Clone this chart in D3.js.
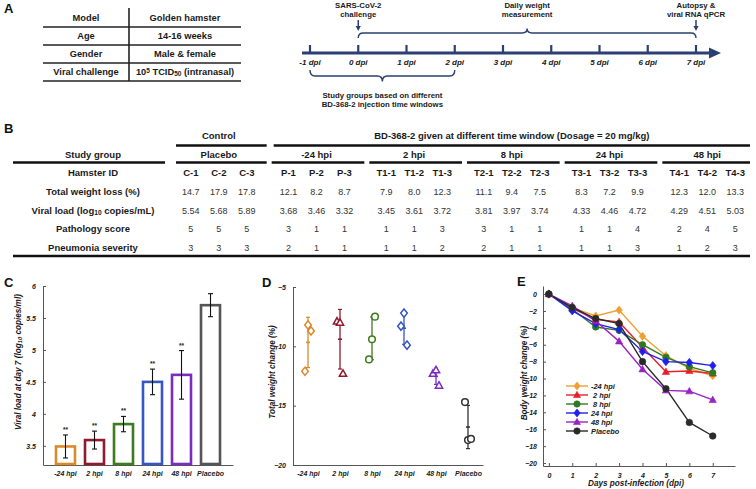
<!DOCTYPE html>
<html><head><meta charset="utf-8">
<script src="https://cdn.jsdelivr.net/npm/d3@7"></script>
<style>
body{margin:0;background:#fff}
svg text{font-family:'Liberation Sans',Arial,Helvetica,sans-serif}
</style>
</head><body>
<svg id="c" width="756" height="489" xmlns="http://www.w3.org/2000/svg"></svg>
<script>
// ---------------- DATA ----------------
const tableAKeys = ["Model", "Age", "Gender", "Viral challenge"];
const tableAValues = ["Golden hamster", "14-16 weeks", "Male & female", "10^{5} TCID_{50} (intranasal)"];
const timelineDays = [-1, 0, 1, 2, 3, 4, 5, 6, 7];

const groupNames = ["Placebo", "-24 hpi", "2 hpi", "8 hpi", "24 hpi", "48 hpi"];
const hamsterIds = [["C-1","C-2","C-3"],["P-1","P-2","P-3"],["T1-1","T1-2","T1-3"],["T2-1","T2-2","T2-3"],["T3-1","T3-2","T3-3"],["T4-1","T4-2","T4-3"]];
const totalWeightLoss = [[14.7,17.9,17.8],[12.1,8.2,8.7],[7.9,8.0,12.3],[11.1,9.4,7.5],[8.3,7.2,9.9],[12.3,12.0,13.3]];
const viralLoad = [[5.54,5.68,5.89],[3.68,3.46,3.32],[3.45,3.61,3.72],[3.81,3.97,3.74],[4.33,4.46,4.72],[4.29,4.51,5.03]];
const pathologyScore = [[5,5,5],[3,1,1],[1,1,3],[3,1,1],[1,1,4],[2,4,5]];
const pneumoniaSeverity = [[3,3,3],[2,1,1],[1,1,2],[2,1,1],[1,1,3],[1,2,3]];
const bRowLabels = ["Hamster ID", "Total weight loss (%)", "Viral load (log_{10} copies/mL)", "Pathology score", "Pneumonia severity"];

const plotCats = ["-24 hpi", "2 hpi", "8 hpi", "24 hpi", "48 hpi", "Placebo"];
// Panel C: viral load at day 7 (mean, SD)
const cMeans = [3.49, 3.59, 3.84, 4.50, 4.61, 5.70];
const cSD = [0.18, 0.14, 0.12, 0.20, 0.38, 0.18];
const cSig = ["**", "**", "**", "**", "**", ""];
const cTicks = [3.5, 4, 4.5, 5, 5.5, 6];
// Panel D: total weight change (%) per animal, mean, SD
const dPoints = [[-12.1,-8.2,-8.7],[-7.9,-8.0,-12.3],[-11.1,-9.4,-7.5],[-8.3,-7.2,-9.9],[-12.3,-12.0,-13.3],[-14.7,-17.9,-17.8]];
const dMeans = [-9.67, -9.40, -9.33, -8.47, -12.53, -16.80];
const dSD = [2.12, 2.51, 1.80, 1.36, 0.68, 1.82];
const dTicks = [-20, -15, -10, -5];
// Panel E: body weight change (%) by day
const eDays = [0, 1, 2, 3, 4, 5, 6, 7];
const eSeriesNames = ["-24 hpi", " 2 hpi", " 8 hpi", "24 hpi", "48 hpi", "Placebo"];
const eMinus24 = [0, -1.6, -2.6, -1.9, -5.0, -7.3, -8.8, -9.67];
const e2 = [0, -1.7, -3.0, -3.3, -6.3, -9.2, -9.1, -9.40];
const e8 = [0, -1.8, -3.9, -4.3, -6.0, -7.5, -8.6, -9.33];
const e24 = [0, -2.0, -3.5, -4.2, -6.8, -8.0, -8.1, -8.47];
const e48 = [0, -1.4, -3.2, -5.6, -8.9, -11.4, -11.5, -12.53];
const ePlacebo = [0, -1.6, -2.9, -3.5, -8.0, -11.2, -15.2, -16.80];
const eYTicks = [0, -2, -4, -6, -8, -10, -12, -14, -16, -18, -20];

// ---------------- STYLE ----------------
const catColors = ["#D98A2B", "#8E1B2E", "#3E7B1E", "#3556C4", "#7B2CBF", "#555555"];
const dColors = ["#D98A2B", "#8E1B2E", "#3E7B1E", "#3556C4", "#7B2CBF", "#333333"];
const eColors = ["#F0A030", "#E8202A", "#2E7A22", "#1F1FF0", "#9B22C2", "#2a2a2a"];
const eShapes = ["diamond", "triangle", "circle", "diamond", "triangle", "circle"];
const dShapes = ["diamond", "triangle", "circle", "diamond", "triangle", "circle"];
const TL = "#2B3F73";
const INK = "#1a1a1a";
const AX = "#555";

const svg = d3.select("#c");

function rich(textSel, str) {
  const parts = str.split(/(\^\{[^}]*\}|_\{[^}]*\})/).filter(s => s.length);
  parts.forEach(p => {
    if (p.startsWith("^{")) {
      textSel.append("tspan").text(p.slice(2, -1)).attr("font-size", "70%").attr("baseline-shift", "35%");
    } else if (p.startsWith("_{")) {
      textSel.append("tspan").text(p.slice(2, -1)).attr("font-size", "70%").attr("baseline-shift", "-20%");
    } else {
      textSel.append("tspan").text(p);
    }
  });
  return textSel;
}
function txt(g, x, y, s, size, opts = {}) {
  const t = g.append("text").attr("x", x).attr("y", y)
    .attr("font-size", size).attr("text-anchor", opts.anchor || "middle")
    .attr("font-weight", opts.weight || "bold")
    .attr("font-style", opts.style || "normal")
    .attr("fill", opts.fill || INK);
  if (opts.pre) t.style("white-space", "pre");
  rich(t, s);
  return t;
}
function marker(g, shape, x, y, r, color, filled, sw) {
  let el;
  if (shape === "circle") {
    el = g.append("circle").attr("cx", x).attr("cy", y).attr("r", r);
  } else if (shape === "diamond") {
    el = g.append("path").attr("d", `M${x},${y - r * 1.25}L${x + r},${y}L${x},${y + r * 1.25}L${x - r},${y}Z`);
  } else {
    el = g.append("path").attr("d", `M${x},${y - r * 1.15}L${x + r * 1.1},${y + r * 0.8}L${x - r * 1.1},${y + r * 0.8}Z`);
  }
  el.attr("fill", filled ? color : "white").attr("stroke", color).attr("stroke-width", sw);
  return el;
}
function label(x, y, s) {
  svg.append("text").attr("x", x).attr("y", y).attr("font-size", 13).attr("font-weight", "bold").attr("fill", "#111").text(s);
}

// ---------------- PANEL A ----------------
label(4, 13, "A");
const aG = svg.append("g");
const aRow = d3.scaleBand().domain(tableAKeys).range([9, 81]);
const aCol = d3.scaleOrdinal().domain(["key", "value"]).range([86, 185]);
tableAKeys.forEach((k, i) => {
  const yc = aRow(k) + aRow.bandwidth() / 2;
  txt(aG, aCol("key"), yc + 3.3, k, 9.3);
  txt(aG, aCol("value"), yc + 3.3, tableAValues[i], 9.3);
  aG.append("line").attr("x1", 43).attr("x2", 241).attr("y1", aRow(k) + aRow.bandwidth()).attr("y2", aRow(k) + aRow.bandwidth())
    .attr("stroke", "#222").attr("stroke-width", 1.6);
});
aG.append("line").attr("x1", 129).attr("x2", 129).attr("y1", 8).attr("y2", 81).attr("stroke", "#222").attr("stroke-width", 1.6);

// Timeline
const tx = d3.scaleLinear().domain([-1, 7]).range([310, 696]);
const tG = svg.append("g");
tG.append("line").attr("x1", 302).attr("x2", 711).attr("y1", 53).attr("y2", 53).attr("stroke", TL).attr("stroke-width", 3);
tG.append("path").attr("d", "M709,47.5L721,53L709,58.5Z").attr("fill", TL);
timelineDays.forEach(d => {
  tG.append("line").attr("x1", tx(d)).attr("x2", tx(d)).attr("y1", 45).attr("y2", 53).attr("stroke", TL).attr("stroke-width", 2.2);
  txt(tG, tx(d), 65, `${d} dpi`, 8, { style: "italic" });
});
function brace(x1, x2, yEnd, yLine, yPeak) {
  const xm = (x1 + x2) / 2, r = 5;
  return `M${x1},${yEnd} Q${x1},${yLine} ${x1 + r},${yLine} L${xm - r},${yLine} Q${xm},${yLine} ${xm},${yPeak} Q${xm},${yLine} ${xm + r},${yLine} L${x2 - r},${yLine} Q${x2},${yLine} ${x2},${yEnd}`;
}
tG.append("path").attr("d", brace(tx(0), tx(7), 38, 33, 28.5)).attr("fill", "none").attr("stroke", TL).attr("stroke-width", 1.4);
tG.append("path").attr("d", brace(tx(-1), tx(2), 70, 76, 81.5)).attr("fill", "none").attr("stroke", TL).attr("stroke-width", 1.4);
[tx(0), tx(7)].forEach(x => {
  tG.append("line").attr("x1", x).attr("x2", x).attr("y1", 20).attr("y2", 27).attr("stroke", TL).attr("stroke-width", 1.5);
  tG.append("path").attr("d", `M${x - 2.6},26L${x},31L${x + 2.6},26Z`).attr("fill", TL);
});
txt(tG, tx(0), 8, "SARS-CoV-2", 7.8);
txt(tG, tx(0), 17, "challenge", 7.8);
txt(tG, (tx(0) + tx(7)) / 2, 8, "Daily weight", 7.8);
txt(tG, (tx(0) + tx(7)) / 2, 17, "measurement", 7.8);
txt(tG, tx(7), 8, "Autopsy &", 7.8);
txt(tG, tx(7), 17, "viral RNA qPCR", 7.8);
txt(tG, (tx(-1) + tx(2)) / 2, 98, "Study groups based on different", 7.8);
txt(tG, (tx(-1) + tx(2)) / 2, 107, "BD-368-2 injection time windows", 7.8);

// ---------------- PANEL B ----------------
label(4, 133, "B");
const bG = svg.append("g");
const bGroup = d3.scaleBand().domain(d3.range(6)).range([170, 756]);
const bInner = d3.scalePoint().domain([0, 1, 2]).range([-28, 28]);
const bRowY = d3.scalePoint().domain(bRowLabels).range([173, 248]);
const bw = bGroup.bandwidth();
const gc = i => bGroup(i) + bw / 2;
const thick = (x1, x2, y, w) => bG.append("line").attr("x1", x1).attr("x2", x2).attr("y1", y).attr("y2", y).attr("stroke", "#111").attr("stroke-width", w || 2.6);
txt(bG, gc(0), 139.3, "Control", 9.5);
txt(bG, (bGroup(1) + bGroup(5) + bw) / 2, 139.3, "BD-368-2 given at different time window (Dosage = 20 mg/kg)", 9.5);
thick(bGroup(0) + 6, bGroup(0) + bw - 1, 145.5);
thick(bGroup(1) + 6, bGroup(5) + bw - 6, 145.5);
txt(bG, 93, 158.3, "Study group", 9.5);
thick(13, 165, 162.5);
groupNames.forEach((g, i) => {
  txt(bG, gc(i), 158.3, g, 9.5);
  thick(bGroup(i) + (i === 0 ? 6 : 4), bGroup(i) + bw - (i === 5 ? 6 : 1), 162.5);
});
const bRowsData = [hamsterIds, totalWeightLoss, viralLoad, pathologyScore, pneumoniaSeverity];
const bFmt = [v => v, d3.format(".1f"), d3.format(".2f"), v => v, v => v];
bRowLabels.forEach((lab, r) => {
  const y = bRowY(lab) + 3.2;
  txt(bG, 93, y, lab, 9.5);
  bRowsData[r].forEach((grp, gi) => grp.forEach((v, k) => {
    txt(bG, gc(gi) + bInner(k), y, String(bFmt[r](v)), r === 0 ? 9.5 : 9, { weight: r === 0 ? "bold" : "normal", fill: r === 0 ? INK : "#333" });
  }));
});
thick(13, 750, 256);

// ---------------- PANEL C ----------------
label(4, 287, "C");
const cG = svg.append("g");
const cx = d3.scaleBand().domain(plotCats).range([43, 233]).paddingInner(0.345).paddingOuter(0.448);
const cy = d3.scaleLinear().domain([3.2, 6]).range([465, 286]);
cG.append("g").attr("transform", "translate(43,0)")
  .call(d3.axisLeft(cy).tickValues(cTicks).tickFormat(d3.format("")).tickSizeInner(-3).tickSizeOuter(0).tickPadding(7));
cG.append("g").attr("transform", "translate(0,465)")
  .call(d3.axisBottom(cx).tickSize(0).tickPadding(6));
plotCats.forEach((c, i) => {
  const x0 = cx(c), w = cx.bandwidth(), xc = x0 + w / 2;
  cG.append("rect").attr("x", x0).attr("y", cy(cMeans[i])).attr("width", w).attr("height", cy(3.2) - cy(cMeans[i]) - 1)
    .attr("fill", "white").attr("stroke", catColors[i]).attr("stroke-width", 2.6);
  const t = cy(cMeans[i] + cSD[i]), b = cy(cMeans[i] - cSD[i]);
  cG.append("line").attr("x1", xc).attr("x2", xc).attr("y1", t).attr("y2", b).attr("stroke", "#111").attr("stroke-width", 1.1);
  [t, b].forEach(yy => cG.append("line").attr("x1", xc - 2.5).attr("x2", xc + 2.5).attr("y1", yy).attr("y2", yy).attr("stroke", "#111").attr("stroke-width", 1.1));
  if (cSig[i]) txt(cG, xc, t - 3, cSig[i], 6.5);
});
const cLab = cG.append("text").attr("transform", "translate(21,362) rotate(-90)").attr("text-anchor", "middle")
  .attr("font-size", 8.2).attr("font-weight", "bold").attr("font-style", "italic").attr("fill", INK);
rich(cLab, "Viral load at day 7 (log_{10} copies/ml)");

// ---------------- PANEL D ----------------
label(262, 287, "D");
const dG = svg.append("g");
const dx = d3.scalePoint().domain(plotCats).range([293, 483]).padding(0.469);
const dy = d3.scaleLinear().domain([-20, -5]).range([465, 287]);
dG.append("g").attr("transform", "translate(293,0)")
  .call(d3.axisLeft(dy).tickValues(dTicks).tickSizeInner(-3).tickSizeOuter(0).tickPadding(7));
dG.append("g").attr("transform", "translate(0,465)")
  .call(d3.axisBottom(dx).tickSize(0).tickPadding(6));
const jitter = [-3, 0, 3];
plotCats.forEach((c, i) => {
  const xc = dx(c), col = dColors[i];
  const t = dy(dMeans[i] + dSD[i]), b = dy(dMeans[i] - dSD[i]);
  dG.append("line").attr("x1", xc).attr("x2", xc).attr("y1", t).attr("y2", b).attr("stroke", col).attr("stroke-width", 1.3);
  [t, b].forEach(yy => dG.append("line").attr("x1", xc - 2).attr("x2", xc + 2).attr("y1", yy).attr("y2", yy).attr("stroke", col).attr("stroke-width", 1.2));
  dG.append("line").attr("x1", xc - 2).attr("x2", xc + 2).attr("y1", dy(dMeans[i])).attr("y2", dy(dMeans[i])).attr("stroke", col).attr("stroke-width", 1.6);
  dPoints[i].forEach((v, k) => marker(dG, dShapes[i], xc + jitter[k], dy(v), 3.3, col, false, 1.5));
});
const dLab = dG.append("text").attr("transform", "translate(275,372) rotate(-90)").attr("text-anchor", "middle")
  .attr("font-size", 8.2).attr("font-weight", "bold").attr("font-style", "italic").attr("fill", INK);
rich(dLab, "Total weight change (%)");

// ---------------- PANEL E ----------------
label(517, 286, "E");
const eG = svg.append("g");
const ex = d3.scaleLinear().domain([-0.25, 7.95]).range([543, 735]);
const ey = d3.scaleLinear().domain([-20.35, 0.95]).range([466, 286]);
eG.append("g").attr("transform", "translate(543,0)")
  .call(d3.axisLeft(ey).tickValues(eYTicks).tickSizeInner(-3).tickSizeOuter(0).tickPadding(6));
eG.append("g").attr("transform", "translate(0,466)")
  .call(d3.axisBottom(ex).tickValues(eDays).tickFormat(d3.format("d")).tickSizeInner(-3).tickSizeOuter(0).tickPadding(7));
const eSeries = [eMinus24, e2, e8, e24, e48, ePlacebo];
const line = d3.line().x((d, i) => ex(eDays[i])).y(d => ey(d));
eSeries.forEach((s, si) => {
  eG.append("path").datum(s).attr("d", line).attr("fill", "none").attr("stroke", eColors[si]).attr("stroke-width", 1.4);
});
eSeries.forEach((s, si) => {
  s.forEach((v, i) => marker(eG, eShapes[si], ex(eDays[i]), ey(v), 3.3, eColors[si], true, 0.6));
});
// legend
const legY = d3.scalePoint().domain(eSeriesNames).range([386, 431]);
eSeriesNames.forEach((n, si) => {
  const y = legY(n);
  eG.append("line").attr("x1", 566).attr("x2", 588).attr("y1", y).attr("y2", y).attr("stroke", eColors[si]).attr("stroke-width", 1.4);
  marker(eG, eShapes[si], 577, y, 3.2, eColors[si], true, 0.6);
  txt(eG, 591, y + 2.6, n, 7.4, { anchor: "start", style: "italic", pre: true });
});
const eLabY = eG.append("text").attr("transform", "translate(527,373) rotate(-90)").attr("text-anchor", "middle")
  .attr("font-size", 8.2).attr("font-weight", "bold").attr("font-style", "italic").attr("fill", INK);
rich(eLabY, "Body weight change (%)");
txt(eG, 636, 486, "Days post-infection (dpi)", 8.2, { style: "italic" });

// axis styling
svg.selectAll(".domain").attr("stroke", AX).attr("stroke-width", 1);
svg.selectAll(".tick line").attr("stroke", AX);
svg.selectAll(".tick text").attr("font-size", 7).attr("font-weight", "bold").attr("font-style", "italic").attr("fill", INK)
  .attr("font-family", "'Liberation Sans',Arial,sans-serif");
</script>
</body></html>
